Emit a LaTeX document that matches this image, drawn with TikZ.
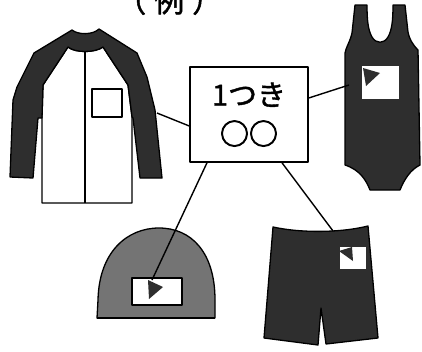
\documentclass[tikz,border=0pt]{standalone}
\usepackage{fontspec}
\newfontfamily\jp[FakeBold=1.3]{Noto Sans CJK JP}
\newfontfamily\jpring[FakeBold=3]{Noto Sans CJK JP}
\newfontfamily\jpbold[FakeBold=1.6]{Noto Sans CJK JP}
\definecolor{clothdark}{HTML}{2E2E2E}
\definecolor{capgray}{HTML}{747474}
\begin{document}
\begin{tikzpicture}[x=1pt,y=-1pt,line join=round,
  outline/.style={draw=black,line width=1.3pt},
  darkcloth/.style={outline,fill=clothdark},
  whitepart/.style={outline,fill=white},
  nametag/.style={fill=white},
  tagmark/.style={fill=clothdark},
  connector/.style={draw=black,line width=1.4pt},
  labelbox/.style={draw=black,line width=1.5pt,fill=white,minimum width=118pt,minimum height=95pt,inner sep=0pt,font=\jp\fontsize{29pt}{39pt}\selectfont,align=center}]
\useasboundingbox (0,0) rectangle (422,351);
\clip (0,0) rectangle (422,351);

% title
\node[anchor=base west,font=\jpbold\fontsize{30pt}{30pt}\selectfont,inner sep=0pt] (title) at (116,12) {（\kern8pt 例\kern8pt ）};

% ---- jacket ----
\draw[whitepart] (68,47) .. controls (75,53) and (95,53) .. (103,47) -- (128,85) -- (132,117)
  -- (132,203) -- (42,203) -- (42,118) -- (43,85) -- cycle;
\draw[outline,line width=1.1pt] (85,52) -- (85,203);
\draw[darkcloth] (10,177) -- (13,100) -- (17,87) -- (34,53) -- (72,30)
  .. controls (78,35) and (93,35) .. (99,29) -- (137,53) -- (147,77) -- (155,110) -- (162,178)
  -- (140,178) -- (133,118) -- (132,117) -- (128,85) -- (103,47)
  .. controls (95,53) and (75,53) .. (68,47) -- (43,85) -- (42,118) -- (38,118) -- (33,178) -- cycle;
\draw[whitepart] (92,89) rectangle (122,117);
\coordinate (jacketEnd) at (157,113);

% ---- swimsuit ----
\draw[darkcloth] (355,5) -- (352,33) .. controls (350,42) and (346,47) .. (345,53)
  -- (345,165) .. controls (360,170) and (366,180) .. (370,190) -- (400,190)
  .. controls (404,180) and (410,170) .. (420,165) -- (418,50)
  .. controls (412,44) and (409,38) .. (408,32) -- (405,5) -- (393,5)
  .. controls (393,20) and (392,30) .. (388,37) .. controls (384,44) and (376,44) .. (372,37)
  .. controls (368,30) and (367,20) .. (367,5) -- cycle;
\fill[nametag] (362,66) rectangle (399,99);
\fill[tagmark] (363,68) -- (380,73) -- (366,86) -- cycle;
\coordinate (suitEnd) at (349,85);

% ---- swim cap ----
\draw[outline,fill=capgray] (97,318) -- (98,300) .. controls (99,252) and (127,228) .. (159,228)
  .. controls (191,228) and (215,252) .. (215,300) -- (215,318) -- cycle;
\draw[black,line width=2.2pt] (97,318) -- (215,318);
\draw[whitepart] (132,278) rectangle (182,305);
\fill[tagmark] (148,280) -- (163,287) -- (149,299) -- cycle;
\coordinate (capEnd) at (152,280);

% ---- shorts ----
\draw[darkcloth] (273,227) .. controls (300,233) and (340,233) .. (368,226) -- (378,338)
  -- (326,344) -- (321,308) -- (318,345) -- (264,338) -- cycle;
\fill[nametag] (340,247) rectangle (366,269);
\fill[tagmark] (339,251) -- (353,261) -- (352,247) -- cycle;
\coordinate (shortsEnd) at (333,231);

% ---- name label and leader lines ----
\node[labelbox] (tag) at (249,114.5) {1つき\\{\jpring ○○}};
\draw[connector] ([yshift=-11.5pt]tag.west) -- (jacketEnd);
\draw[connector] ([yshift=16.5pt]tag.east) -- (suitEnd);
\draw[connector] ([xshift=-42pt]tag.south) -- (capEnd);
\draw[connector] ([xshift=33pt]tag.south) -- (shortsEnd);
\end{tikzpicture}
\end{document}
